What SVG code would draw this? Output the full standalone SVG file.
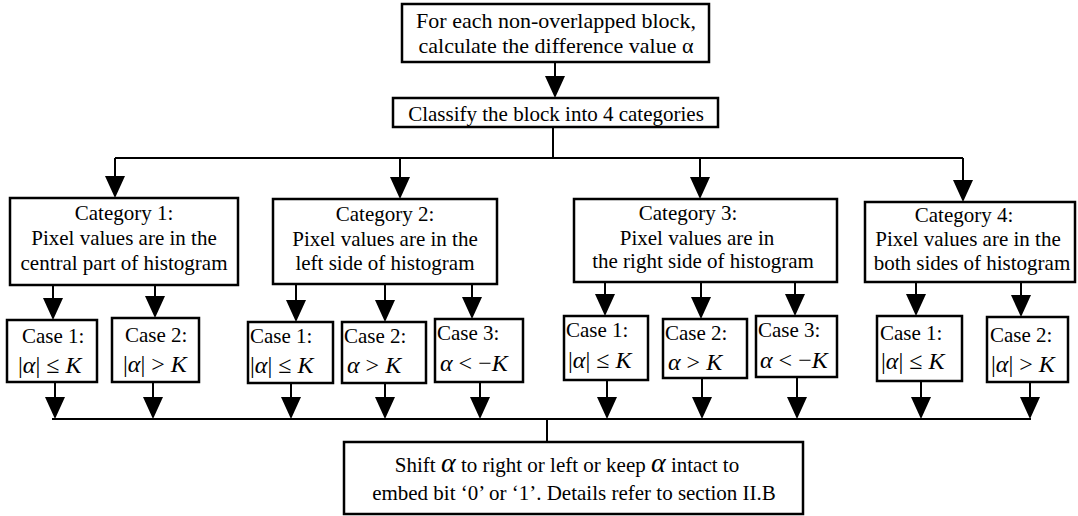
<svg xmlns="http://www.w3.org/2000/svg" width="1078" height="516" viewBox="0 0 1078 516">
<style>
.box{fill:#fff;stroke:#000;stroke-width:2.5}
.ln{fill:none;stroke:#000;stroke-width:2}
.ar{fill:none;stroke:#000;stroke-width:2;marker-end:url(#ah)}
text{font-family:"Liberation Serif","Times New Roman",serif;font-size:21px;fill:#000}
.c{text-anchor:middle}
.t{font-size:22px}
.m{font-size:24px}
.i{font-style:italic}
.ga{font-style:italic;font-size:28px}
</style>
<defs>
<marker id="ah" markerUnits="userSpaceOnUse" markerWidth="22" markerHeight="20" viewBox="0 0 22 20" refX="14" refY="10" orient="auto">
<path d="M0,0 L22,10 L0,20 Z" fill="#000"/>
</marker>
</defs>
<g id="connectors">
<path class="ar" d="M555,62 V90"/>
<path class="ln" d="M553,127 V158 M115,158 H963"/>
<path class="ar" d="M115,158 V190"/>
<path class="ar" d="M400,158 V191"/>
<path class="ar" d="M700,158 V191"/>
<path class="ar" d="M963,158 V194"/>
<path class="ar" d="M53,285 V312"/>
<path class="ar" d="M155,285 V310"/>
<path class="ar" d="M296,284 V314"/>
<path class="ar" d="M385,284 V314"/>
<path class="ar" d="M472,284 V311"/>
<path class="ar" d="M605,282 V308"/>
<path class="ar" d="M701,282 V311"/>
<path class="ar" d="M795,282 V308"/>
<path class="ar" d="M916,282 V308"/>
<path class="ar" d="M1021,282 V309"/>
<path class="ar" d="M55,382 V411"/>
<path class="ar" d="M153,382 V411"/>
<path class="ar" d="M291,383 V411"/>
<path class="ar" d="M385,383 V411"/>
<path class="ar" d="M480,382 V411"/>
<path class="ar" d="M607,380 V411"/>
<path class="ar" d="M702,378 V411"/>
<path class="ar" d="M797,377 V411"/>
<path class="ar" d="M921,381 V411"/>
<path class="ar" d="M1030,382 V411"/>
<path class="ln" d="M52,419 H1031 M547,419 V442"/>
</g>
<g id="start">
<rect class="box" x="402" y="4" width="307" height="58"/>
<text class="c t" x="556" y="28">For each non-overlapped block,</text>
<text class="c t" x="556" y="53">calculate the difference value α</text>
</g>
<g id="classify">
<rect class="box" x="393" y="98" width="325" height="29"/>
<text class="c" x="556" y="121">Classify the block into 4 categories</text>
</g>
<g id="cat1">
<rect class="box" x="10" y="198" width="228" height="87"/>
<text class="c" x="124" y="220">Category 1:</text>
<text class="c" x="124" y="245">Pixel values are in the</text>
<text class="c" x="124" y="270">central part of histogram</text>
</g>
<g id="cat2">
<rect class="box" x="273" y="199" width="224" height="85"/>
<text class="c" x="385" y="221">Category 2:</text>
<text class="c" x="385" y="246">Pixel values are in the</text>
<text class="c" x="385" y="270">left side of histogram</text>
</g>
<g id="cat3">
<rect class="box" x="574" y="199" width="263" height="83"/>
<text class="c" x="688" y="220">Category 3:</text>
<text class="c" x="697" y="245">Pixel values are in</text>
<text class="c" x="703" y="268">the right side of histogram</text>
</g>
<g id="cat4">
<rect class="box" x="865" y="202" width="210" height="80"/>
<text class="c" x="964" y="222">Category 4:</text>
<text class="c" x="968" y="246">Pixel values are in the</text>
<text class="c" x="972" y="270">both sides of histogram</text>
</g>
<g id="c1case1">
<rect class="box" x="7" y="320" width="90" height="62"/>
<text x="22" y="343">Case 1:</text>
<text class="m" x="18" y="373">|<tspan class="i">α</tspan>| ≤ <tspan class="i">K</tspan></text>
</g>
<g id="c1case2">
<rect class="box" x="112" y="318" width="87" height="64"/>
<text x="125" y="342">Case 2:</text>
<text class="m" x="123" y="372">|<tspan class="i">α</tspan>| &gt; <tspan class="i">K</tspan></text>
</g>
<g id="c2case1">
<rect class="box" x="248" y="322" width="85" height="61"/>
<text x="250" y="343">Case 1:</text>
<text class="m" x="250" y="373">|<tspan class="i">α</tspan>| ≤ <tspan class="i">K</tspan></text>
</g>
<g id="c2case2">
<rect class="box" x="342" y="322" width="84" height="61"/>
<text x="344" y="343">Case 2:</text>
<text class="m" x="347" y="373"><tspan class="i">α</tspan> &gt; <tspan class="i">K</tspan></text>
</g>
<g id="c2case3">
<rect class="box" x="435" y="319" width="88" height="63"/>
<text x="437" y="340">Case 3:</text>
<text class="m" x="440" y="371"><tspan class="i">α</tspan> &lt; −<tspan class="i">K</tspan></text>
</g>
<g id="c3case1">
<rect class="box" x="564" y="316" width="84" height="64"/>
<text x="566" y="337">Case 1:</text>
<text class="m" x="568" y="368">|<tspan class="i">α</tspan>| ≤ <tspan class="i">K</tspan></text>
</g>
<g id="c3case2">
<rect class="box" x="663" y="319" width="84" height="59"/>
<text x="665" y="340">Case 2:</text>
<text class="m" x="668" y="370"><tspan class="i">α</tspan> &gt; <tspan class="i">K</tspan></text>
</g>
<g id="c3case3">
<rect class="box" x="756" y="316" width="81" height="61"/>
<text x="758" y="337">Case 3:</text>
<text class="m" x="760" y="368"><tspan class="i">α</tspan> &lt; −<tspan class="i">K</tspan></text>
</g>
<g id="c4case1">
<rect class="box" x="877" y="316" width="85" height="65"/>
<text x="880" y="340">Case 1:</text>
<text class="m" x="881" y="369">|<tspan class="i">α</tspan>| ≤ <tspan class="i">K</tspan></text>
</g>
<g id="c4case2">
<rect class="box" x="987" y="317" width="81" height="65"/>
<text x="990" y="342">Case 2:</text>
<text class="m" x="991" y="372">|<tspan class="i">α</tspan>| &gt; <tspan class="i">K</tspan></text>
</g>
<g id="embed">
<rect class="box" x="344" y="442" width="459" height="72"/>
<text class="c" x="567" y="472">Shift <tspan class="ga">α</tspan> to right or left or keep <tspan class="ga">α</tspan> intact to</text>
<text class="c" x="574" y="500">embed bit ‘0’ or ‘1’. Details refer to section II.B</text>
</g>
</svg>
